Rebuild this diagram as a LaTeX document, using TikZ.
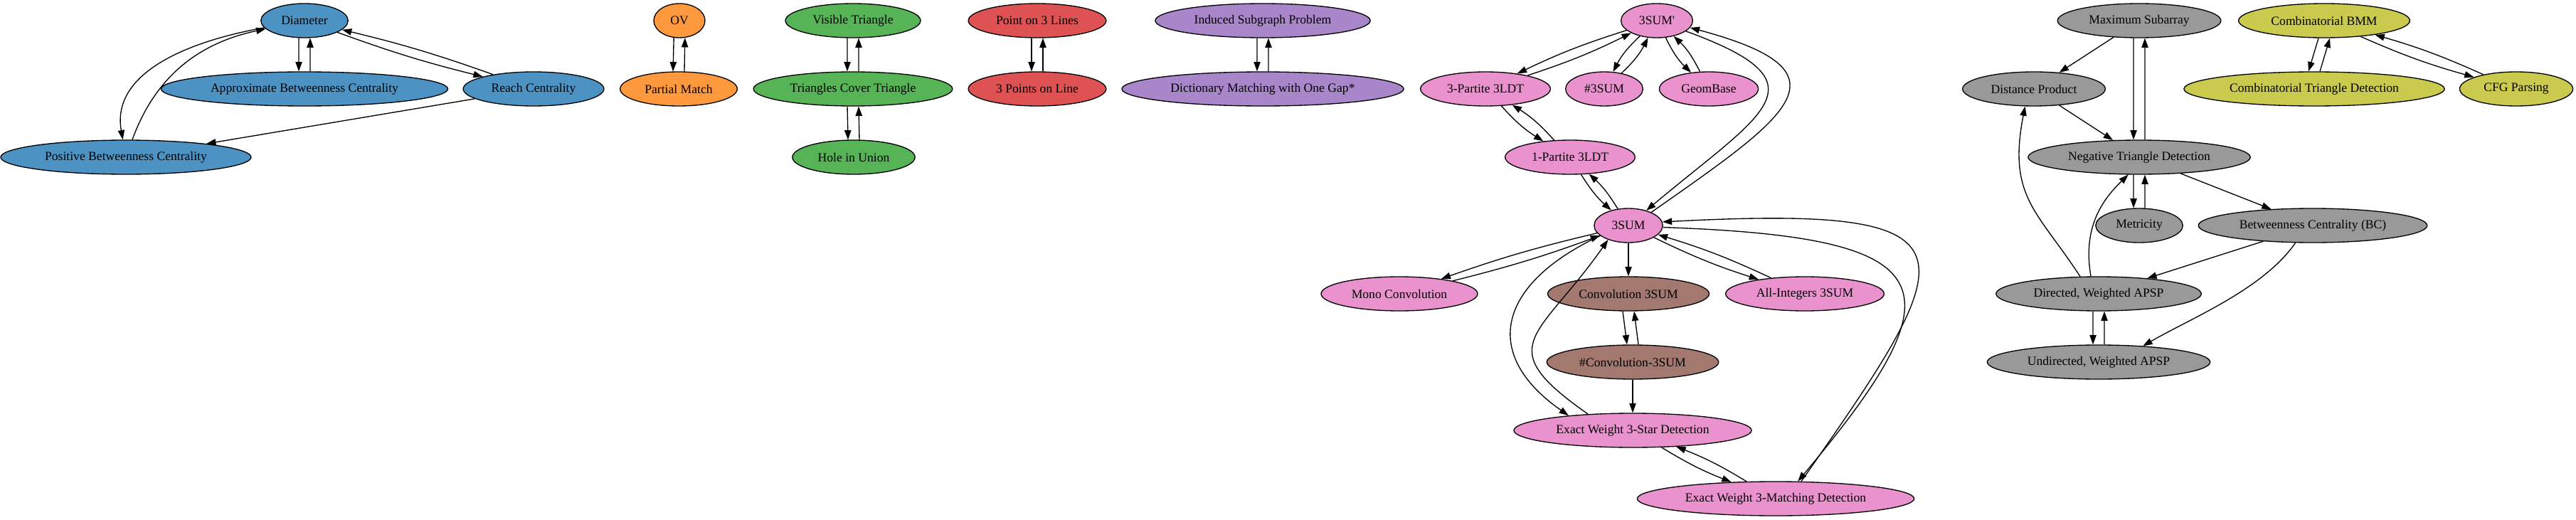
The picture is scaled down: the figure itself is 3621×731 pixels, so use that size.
\documentclass[tikz,border=0pt]{standalone}
\usepackage{fontspec}
\setmainfont{Liberation Serif}
\usetikzlibrary{shapes.geometric,arrows.meta}

\definecolor{cblue}{RGB}{76,146,195}
\definecolor{corange}{RGB}{255,153,62}
\definecolor{cgreen}{RGB}{86,179,86}
\definecolor{cred}{RGB}{222,82,83}
\definecolor{cpurple}{RGB}{169,133,202}
\definecolor{cbrown}{RGB}{163,120,111}
\definecolor{cpink}{RGB}{233,146,206}
\definecolor{cgray}{RGB}{153,153,153}
\definecolor{colive}{RGB}{201,202,78}

\begin{document}
\begin{tikzpicture}[x=0.75pt, y=0.75pt, line width=1pt,
every node/.style={ellipse, draw, inner xsep=7.92pt, inner ysep=3.96pt,
    minimum width=54pt, minimum height=36pt, font=\fontsize{13.2pt}{16pt}\selectfont
    },
>={Triangle[length=10pt,width=7pt]}
]
\useasboundingbox (0,0) rectangle (3621,-731);

\node[fill=cblue] (dia) at (428,-29) {Diameter};
\node[fill=cblue] (abc) at (428,-125) {Approximate Betweenness Centrality};
\node[fill=cblue] (rch) at (750,-125) {Reach Centrality};
\node[fill=cblue] (pbc) at (177,-221) {Positive Betweenness Centrality};

\node[fill=corange] (ov) at (955,-29) {OV};
\node[fill=corange] (pm) at (954,-125) {Partial Match};

\node[fill=cgreen] (vt) at (1199,-29) {Visible Triangle};
\node[fill=cgreen] (tct) at (1199,-125) {Triangles Cover Triangle};
\node[fill=cgreen] (hu) at (1200,-221) {Hole in Union};

\node[fill=cred] (p3l) at (1458,-29) {Point on 3 Lines};
\node[fill=cred] (p3p) at (1458,-125) {3 Points on Line};

\node[fill=cpurple] (isp) at (1775,-29) {Induced Subgraph Problem};
\node[fill=cpurple] (dmg) at (1775,-125) {Dictionary Matching with One Gap*};

\node[fill=cpink] (sump) at (2329,-29) {3SUM\textquotesingle};
\node[fill=cpink] (ppl) at (2088,-125) {3-Partite 3LDT};
\node[fill=cpink] (nsum) at (2255,-125) {\#3SUM};
\node[fill=cpink] (geo) at (2402,-125) {GeomBase};
\node[fill=cpink] (opl) at (2207,-221) {1-Partite 3LDT};
\node[fill=cpink] (sum) at (2289,-317) {3SUM};
\node[fill=cpink] (mono) at (1967,-413) {Mono Convolution};
\node[fill=cbrown] (conv) at (2289,-413) {Convolution 3SUM};
\node[fill=cpink] (allint) at (2537,-413) {All-Integers 3SUM};
\node[fill=cbrown] (nconv) at (2295,-509) {\#Convolution-3SUM};
\node[fill=cpink] (ews) at (2295,-605) {Exact Weight 3-Star Detection};
\node[fill=cpink] (ewm) at (2496,-701) {Exact Weight 3-Matching Detection};

\node[fill=cgray] (msa) at (3007,-29) {Maximum Subarray};
\node[fill=cgray] (dp) at (2859,-125) {Distance Product};
\node[fill=cgray] (ntd) at (3007,-221) {Negative Triangle Detection};
\node[fill=cgray] (met) at (3007,-317) {Metricity};
\node[fill=cgray] (bc) at (3251,-317) {Betweenness Centrality (BC)};
\node[fill=cgray] (dap) at (2950,-413) {Directed, Weighted APSP};
\node[fill=cgray] (uap) at (2950,-509) {Undirected, Weighted APSP};

\node[fill=colive] (cbmm) at (3267,-29) {Combinatorial BMM};
\node[fill=colive] (ctd) at (3253,-125) {Combinatorial Triangle Detection};
\node[fill=colive] (cfg) at (3537,-125) {CFG Parsing};

\foreach \a/\b in {dia/abc, ov/pm, vt/tct, tct/hu, p3l/p3p, isp/dmg, conv/nconv,
                   msa/ntd, ntd/met, dap/uap, cbmm/ctd}{
    \draw[->] (\a.252) -- (\b.108);
    \draw[->] (\b.72) -- (\a.288);
}

\foreach \a/\b/\t in {dia/rch/3, sump/ppl/4, sump/nsum/10, sump/geo/10, ppl/opl/8,
                      opl/sum/8, sum/mono/3, sum/allint/4, ews/ewm/5, cbmm/cfg/4}{
    \draw[->] (\a) to[bend right=\t] (\b);
    \draw[->] (\b) to[bend right=\t] (\a);
}

\foreach \a/\b in {rch/pbc, sum/conv, nconv/ews, msa/dp, dp/ntd, ntd/bc, bc/dap}
    \draw[->] (\a) -- (\b);

\draw[->] (dia) to[out=190, in=100] (pbc);
\draw[->] (pbc) to[out=70, in=192] (dia);

\draw[->] (sump.-20) .. controls +(-20:215) and +(40:215) .. (sum.40);
\draw[->] (sum.30) .. controls +(35:240) and +(-15:240) .. (sump.-12);
\draw[->] (sum.200) .. controls +(205:155) and +(145:155) .. (ews.167);
\draw[->] (ews.160) .. controls +(145:170) and +(235:170) .. (sum.215);
\draw[->] (sum.-3) .. controls +(-2:400) and +(50:360) .. (ewm.38);
\draw[->] (ewm.34) .. controls +(55:400) and +(3:460) .. (sum.6);

\draw[->] (dap.137) .. controls +(123:110) and +(259:130) .. (dp.243);
\draw[->] (dap.114) .. controls +(100:70) and +(224:50) .. (ntd.238);
\draw[->] (bc.225) .. controls +(235:80) and +(30:80) .. (uap.20);
\end{tikzpicture}
\end{document}
